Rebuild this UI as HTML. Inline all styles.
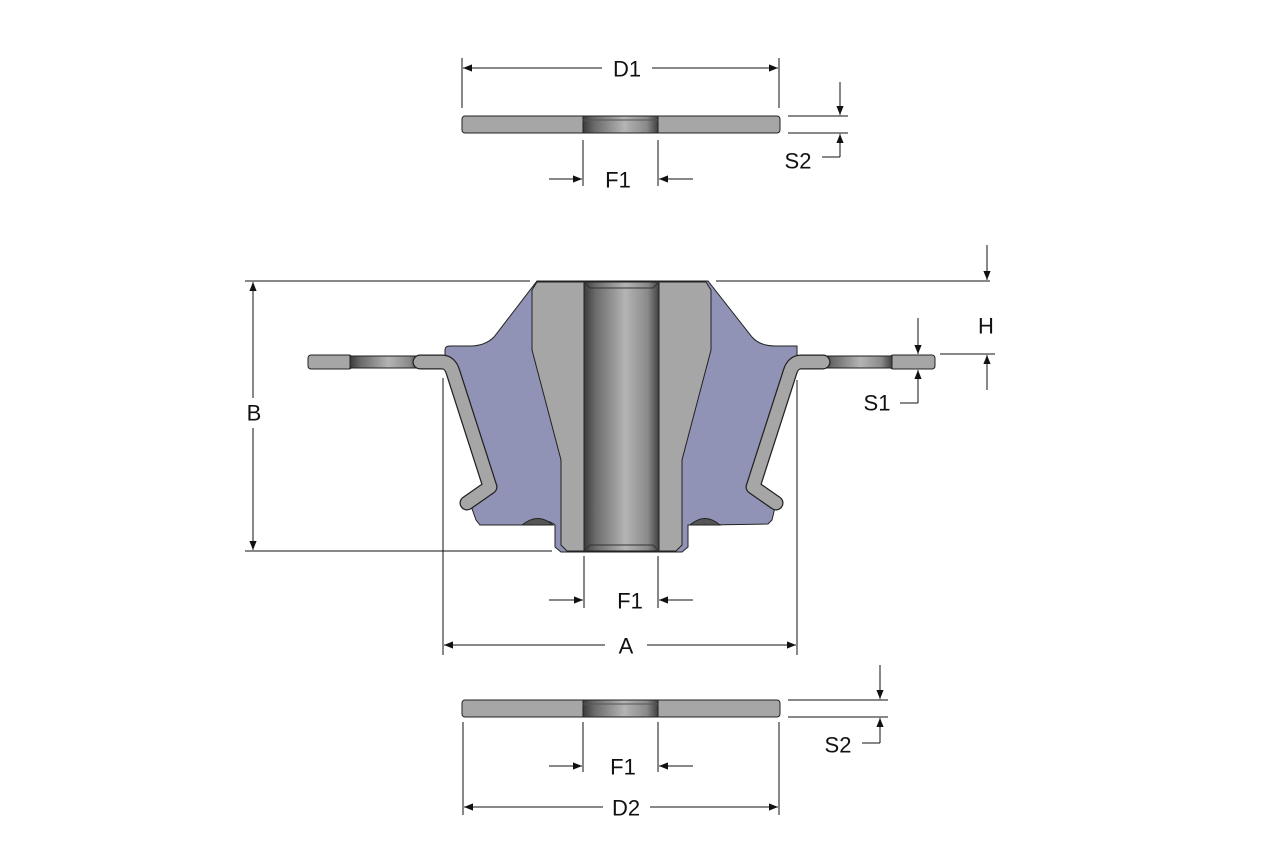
<!DOCTYPE html>
<html><head><meta charset="utf-8"><style>
html,body{margin:0;padding:0;background:#fff;}
svg{display:block;}
text{font-family:"Liberation Sans",sans-serif;font-size:22px;fill:#111;}
</style></head><body>
<svg width="1275" height="844" viewBox="0 0 1275 844" xmlns="http://www.w3.org/2000/svg">
<defs>
<linearGradient id="bore" x1="0" x2="1" y1="0" y2="0">
<stop offset="0" stop-color="#3a3a3a"/><stop offset="0.15" stop-color="#6a6a6a"/>
<stop offset="0.55" stop-color="#b4b4b4"/><stop offset="0.85" stop-color="#8a8a8a"/><stop offset="1" stop-color="#404040"/>
</linearGradient>
<marker id="ar" viewBox="0 0 10 10" refX="10" refY="5" markerWidth="15" markerHeight="9" markerUnits="userSpaceOnUse" orient="auto">
<path d="M0,1 L10,5 L0,9 Z" fill="#111"/></marker>
</defs>

<g stroke="#222" stroke-width="1">
<rect x="462" y="116" width="318" height="17" rx="3" fill="#a6a6a6"/>
<rect x="583" y="116" width="75" height="17" fill="url(#bore)"/>
<line x1="583" y1="120" x2="658" y2="120" stroke="#555"/>
</g>
<g stroke="#222" stroke-width="1">
<rect x="462" y="700" width="318" height="17" rx="3" fill="#a6a6a6"/>
<rect x="583" y="700" width="75" height="17" fill="url(#bore)"/>
<line x1="583" y1="704" x2="658" y2="704" stroke="#555"/>
</g>

<path d="M537,281 L708,281 L752,337 Q760,346 775,346 L797,346 L797,356 L790,368 L757,488 L776,503 L772,520 L768,524 L708,525 Q700,517 690,525 L688,525 L688,547 L682,552 L561,552 L555,547 L555,525 Q545,517 535,525 L480,525 L476,520 L470,503 L488,488 L455,368 L445,356 L445,350 Q445,346 450,346 L470,346 Q485,346 494,337 Z" fill="#9093b5" stroke="#222" stroke-width="1"/>
<path d="M522,525 Q538,512 553,525 Z M690,525 Q705,512 720,525 Z" fill="#555" stroke="#222" stroke-width="1"/>

<g stroke="#222" stroke-width="1">
<rect x="308" y="355" width="44" height="14" rx="3" fill="#a6a6a6"/>
<rect x="350" y="356" width="70" height="12" fill="url(#bore)"/>
<rect x="890" y="355" width="45" height="14" rx="3" fill="#a6a6a6"/>
<rect x="822" y="356" width="70" height="12" fill="url(#bore)"/>
</g>
<g fill="none" stroke-linejoin="round" stroke-linecap="round">
<path d="M420,362 L442,362 Q450,362 453,372 L490,487 L467,503" stroke="#222" stroke-width="15"/>
<path d="M420,362 L442,362 Q450,362 453,372 L490,487 L467,503" stroke="#a6a6a6" stroke-width="12.5"/>
<path d="M823,362 L801,362 Q793,362 790,372 L753,487 L776,503" stroke="#222" stroke-width="15"/>
<path d="M823,362 L801,362 Q793,362 790,372 L753,487 L776,503" stroke="#a6a6a6" stroke-width="12.5"/>
</g>

<g stroke="#222" stroke-width="1" fill="#a6a6a6">
<path d="M537,282 L584,282 L584,551 L567,551 L561,545 L561,460 L532,350 L532,290 Z"/>
<path d="M706,282 L659,282 L659,551 L676,551 L682,545 L682,460 L711,350 L711,290 Z"/>
<rect x="584" y="282" width="75" height="269" fill="url(#bore)"/>
<path d="M584,282 L590,288 L653,288 L659,282 M584,551 L590,545 L653,545 L659,551" fill="none" stroke="#333"/>
</g>

<g stroke="#111" stroke-width="1" fill="none">
<line x1="462" y1="58" x2="462" y2="108"/><line x1="779" y1="58" x2="779" y2="108"/>
<line x1="602" y1="68" x2="463" y2="68" marker-end="url(#ar)"/>
<line x1="652" y1="68" x2="778" y2="68" marker-end="url(#ar)"/>
<line x1="788" y1="116" x2="848" y2="116"/><line x1="788" y1="133" x2="848" y2="133"/>
<line x1="840" y1="82" x2="840" y2="115" marker-end="url(#ar)"/>
<line x1="840" y1="157" x2="840" y2="134" marker-end="url(#ar)"/>
<line x1="822" y1="157" x2="840" y2="157"/>
<line x1="583" y1="140" x2="583" y2="186"/><line x1="658" y1="140" x2="658" y2="186"/>
<line x1="549" y1="179" x2="582" y2="179" marker-end="url(#ar)"/>
<line x1="693" y1="179" x2="659" y2="179" marker-end="url(#ar)"/>
<line x1="245" y1="281" x2="530" y2="281"/><line x1="716" y1="281" x2="990" y2="281"/>
<line x1="987" y1="245" x2="987" y2="280" marker-end="url(#ar)"/>
<line x1="245" y1="551" x2="552" y2="551"/>
<line x1="253" y1="398" x2="253" y2="282" marker-end="url(#ar)"/>
<line x1="253" y1="428" x2="253" y2="550" marker-end="url(#ar)"/>
<line x1="940" y1="354" x2="995" y2="354"/>
<line x1="987" y1="390" x2="987" y2="355" marker-end="url(#ar)"/>
<line x1="918" y1="318" x2="918" y2="354" marker-end="url(#ar)"/>
<line x1="918" y1="403" x2="918" y2="370" marker-end="url(#ar)"/>
<line x1="900" y1="403" x2="918" y2="403"/>
<line x1="443" y1="378" x2="443" y2="655"/><line x1="797" y1="380" x2="797" y2="655"/>
<line x1="605" y1="645" x2="444" y2="645" marker-end="url(#ar)"/>
<line x1="647" y1="645" x2="796" y2="645" marker-end="url(#ar)"/>
<line x1="584" y1="556" x2="584" y2="608"/><line x1="658" y1="556" x2="658" y2="608"/>
<line x1="549" y1="600" x2="583" y2="600" marker-end="url(#ar)"/>
<line x1="693" y1="600" x2="659" y2="600" marker-end="url(#ar)"/>
<line x1="788" y1="700" x2="888" y2="700"/><line x1="788" y1="717" x2="888" y2="717"/>
<line x1="880" y1="665" x2="880" y2="699" marker-end="url(#ar)"/>
<line x1="880" y1="743" x2="880" y2="718" marker-end="url(#ar)"/>
<line x1="862" y1="743" x2="880" y2="743"/>
<line x1="583" y1="722" x2="583" y2="772"/><line x1="658" y1="722" x2="658" y2="772"/>
<line x1="549" y1="766" x2="582" y2="766" marker-end="url(#ar)"/>
<line x1="693" y1="766" x2="659" y2="766" marker-end="url(#ar)"/>
<line x1="463" y1="722" x2="463" y2="815"/><line x1="779" y1="722" x2="779" y2="815"/>
<line x1="603" y1="807" x2="464" y2="807" marker-end="url(#ar)"/>
<line x1="650" y1="807" x2="778" y2="807" marker-end="url(#ar)"/>
</g>

<g text-anchor="middle" dominant-baseline="central">
<text x="627" y="69">D1</text>
<text x="798" y="161">S2</text>
<text x="618" y="180">F1</text>
<text x="254" y="413">B</text>
<text x="986" y="326">H</text>
<text x="877" y="403">S1</text>
<text x="630" y="601">F1</text>
<text x="626" y="646">A</text>
<text x="838" y="745">S2</text>
<text x="623" y="767">F1</text>
<text x="626" y="808">D2</text>
</g>
</svg>
</body></html>
